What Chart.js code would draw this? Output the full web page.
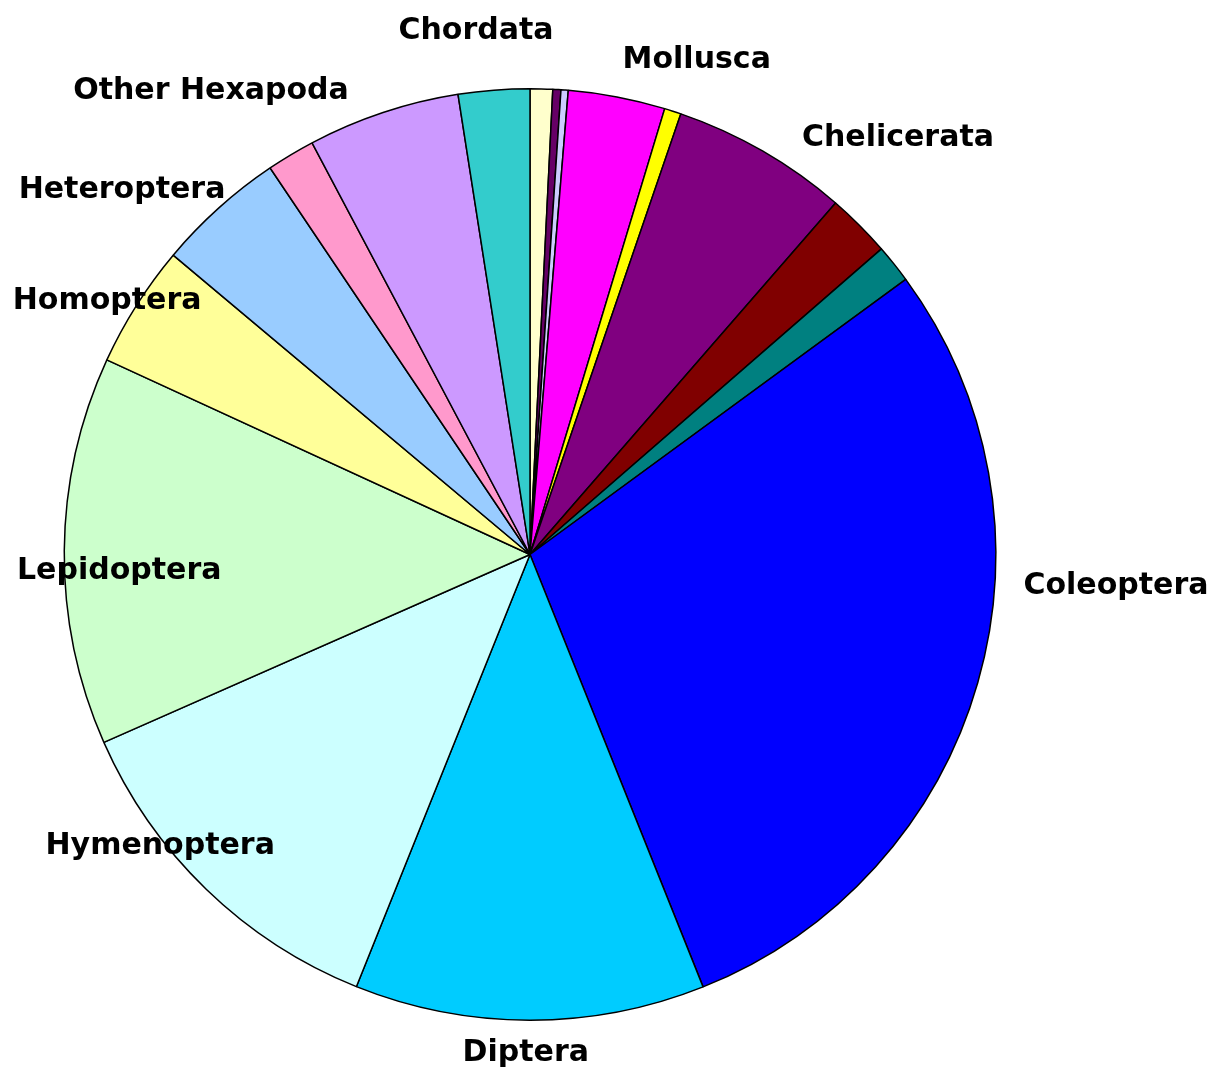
<!DOCTYPE html>
<html>
<head>
<meta charset="utf-8">
<script src="https://cdn.jsdelivr.net/npm/chart.js@4/dist/chart.umd.min.js"></script>
<style>
  html, body { margin: 0; padding: 0; background: #fff; }
</style>
</head>
<body>
<canvas id="myChart" width="1218" height="1076"></canvas>
<script>
// slices, clockwise from 12 o'clock (share of total, %)
const groups = ['', '', '', 'Mollusca', '', 'Chelicerata', '', '', 'Coleoptera', 'Diptera',
    'Hymenoptera', 'Lepidoptera', 'Homoptera', 'Heteroptera', '', 'Other Hexapoda', 'Chordata'];
const shares = [0.78, 0.28, 0.25, 3.36, 0.58, 6.14, 2.22, 1.33, 29.0, 12.14,
    12.31, 13.47, 4.25, 4.47, 1.67, 5.28, 2.47];
const colours = ['#FFFFCC', '#660066', '#CCCCFF', '#FF00FF', '#FFFF00', '#800080', '#800000', '#008080',
    '#0000FF', '#00CCFF', '#CCFFFF', '#CCFFCC', '#FFFF99', '#99CCFF', '#FF99CC', '#CC99FF', '#33CCCC'];

// where each label sits, relative to the pie centre, in units of the radius
const labelSpots = {
    'Chordata': [-0.116, -1.124],
    'Mollusca': [0.358, -1.062],
    'Chelicerata': [0.790, -0.893],
    'Coleoptera': [1.258, 0.069],
    'Diptera': [-0.009, 1.071],
    'Hymenoptera': [-0.794, 0.627],
    'Lepidoptera': [-0.882, 0.036],
    'Homoptera': [-0.908, -0.543],
    'Heteroptera': [-0.876, -0.783],
    'Other Hexapoda': [-0.685, -0.994]
};

const sliceLabels = {
    id: 'sliceLabels',
    afterDraw(chart) {
        const arc = chart.getDatasetMeta(0).data[0];
        const ctx = chart.ctx;
        ctx.save();
        ctx.font = 'bold 30px "DejaVu Sans"';
        ctx.fillStyle = '#000';
        ctx.textAlign = 'center';
        ctx.textBaseline = 'middle';
        chart.data.labels.forEach(name => {
            const spot = labelSpots[name];
            if (!spot) return;
            ctx.fillText(name, arc.x + spot[0] * arc.outerRadius, arc.y + spot[1] * arc.outerRadius);
        });
        ctx.restore();
    }
};

var ctx = document.getElementById('myChart').getContext('2d');
var myChart = new Chart(ctx, {
    type: 'pie',
    data: {
        labels: groups,
        datasets: [{
            data: shares,
            backgroundColor: colours,
            borderColor: '#000',
            borderWidth: 1.5
        }]
    },
    options: {
        responsive: false,
        animation: false,
        layout: { padding: { top: 88, bottom: 55, left: 63, right: 221 } },
        plugins: {
            legend: { display: false },
            tooltip: { enabled: false }
        }
    },
    plugins: [sliceLabels]
});
</script>
</body>
</html>
